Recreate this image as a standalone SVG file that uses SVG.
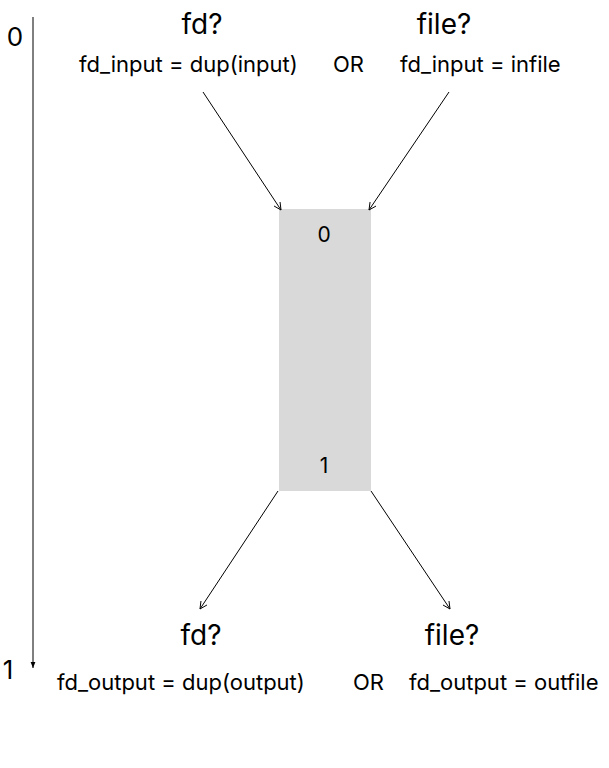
<svg xmlns="http://www.w3.org/2000/svg" width="609" height="768" viewBox="0 0 609 768">
<style>
text{font-family:Inter,"Liberation Sans",sans-serif;fill:#000}
.big{font-size:28px;text-anchor:middle}
.mid{font-size:22px}
.lbl{font-size:21px;text-anchor:middle}
.axis{font-size:26px;text-anchor:middle}
.conn line{stroke:#000;stroke-width:1;fill:none}
</style>
<defs>
<marker id="open" viewBox="0 0 10 10" refX="9" refY="5" markerWidth="9" markerHeight="9" orient="auto" markerUnits="userSpaceOnUse">
<path d="M1,1 L9,5 L1,9" fill="none" stroke="#000" stroke-width="1"/>
</marker>
<marker id="solid" viewBox="0 0 10 10" refX="10" refY="5" markerWidth="6" markerHeight="6" orient="auto" markerUnits="userSpaceOnUse">
<path d="M0,1 L10,5 L0,9 Z" fill="#000"/>
</marker>
</defs>
<g id="timeline">
<line x1="33" y1="17" x2="33" y2="668" stroke="#000" stroke-width="1" marker-end="url(#solid)"/>
<text x="15" y="46" class="axis">0</text>
<text x="8" y="679" class="axis">1</text>
</g>
<g id="input-fd">
<text x="202" y="34" class="big">fd?</text>
<text x="79" y="72" class="mid">fd_input = dup(input)</text>
</g>
<g id="input-or"><text x="333" y="72" class="mid">OR</text></g>
<g id="input-file">
<text x="444" y="34" class="big">file?</text>
<text x="400" y="72" class="mid">fd_input = infile</text>
</g>
<g id="process">
<rect x="279" y="209" width="92" height="282" fill="#d9d9d9"/>
<text x="324" y="242" class="lbl">0</text>
<text x="324" y="473" class="lbl">1</text>
</g>
<g id="output-fd">
<text x="201" y="645" class="big">fd?</text>
<text x="57" y="690" class="mid">fd_output = dup(output)</text>
</g>
<g id="output-or"><text x="353" y="690" class="mid">OR</text></g>
<g id="output-file">
<text x="452" y="645" class="big">file?</text>
<text x="409" y="690" class="mid">fd_output = outfile</text>
</g>
<g class="conn" id="connectors">
<line x1="203" y1="92" x2="281" y2="210" marker-end="url(#open)"/>
<line x1="449" y1="92" x2="369" y2="210" marker-end="url(#open)"/>
<line x1="278" y1="491" x2="200" y2="609" marker-end="url(#open)"/>
<line x1="371" y1="491" x2="450" y2="609" marker-end="url(#open)"/>
</g>
</svg>
